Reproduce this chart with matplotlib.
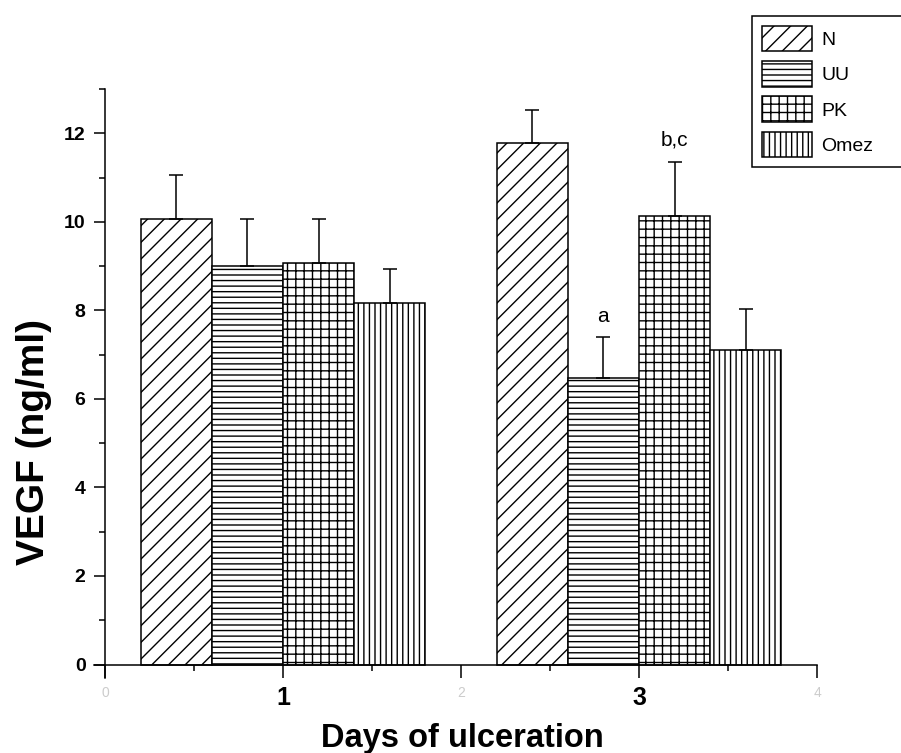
import numpy as np
import matplotlib.pyplot as plt
from matplotlib.ticker import MultipleLocator

plt.rcParams['font.family'] = ['Liberation Sans', 'DejaVu Sans']
plt.rcParams['hatch.linewidth'] = 1.0

days = [1, 3]
groups = ['N', 'UU', 'PK', 'Omez']
n_mean = [10.06, 11.78]
n_err = [0.99, 0.75]
uu_mean = [9.01, 6.48]
uu_err = [1.05, 0.92]
pk_mean = [9.06, 10.12]
pk_err = [1.00, 1.23]
omez_mean = [8.17, 7.10]
omez_err = [0.77, 0.94]
means = [n_mean, uu_mean, pk_mean, omez_mean]
errs = [n_err, uu_err, pk_err, omez_err]
hatches = ['//', '---', '++', '|||']
xtick_labels = ['0', '1', '2', '3', '4']

width = 0.4
offsets = [-1.5, -0.5, 0.5, 1.5]

fig = plt.figure(figsize=(9.01, 7.53), dpi=100)
ax = fig.add_axes([94 / 901, 1 - 677.8 / 753, 723 / 901, (677.8 - 89) / 753])

for i in range(len(groups)):
    x = np.array(days) + offsets[i] * width
    ax.bar(x, means[i], width, color='white', edgecolor='black', hatch=hatches[i],
           linewidth=1.1, label=groups[i],
           yerr=[np.zeros(len(days)), errs[i]],
           error_kw=dict(ecolor='black', elinewidth=1.1, capsize=5, capthick=1.1))

# significance letters
ax.text(days[1] + offsets[1] * width, 7.87, 'a', ha='center', va='center', fontsize=15)
ax.text(days[1] + offsets[2] * width, 11.85, 'b,c', ha='center', va='center', fontsize=15)

ax.set_xlim(-0.062, 4.0)
ax.set_ylim(-0.3, 13)
ax.spines['left'].set_position(('data', 0))
ax.spines['bottom'].set_position(('data', 0))
ax.spines['top'].set_visible(False)
ax.spines['right'].set_visible(False)
ax.spines['left'].set_linewidth(1.1)
ax.spines['bottom'].set_linewidth(1.1)

ax.set_xticks(range(5), xtick_labels)
ax.xaxis.set_minor_locator(MultipleLocator(0.5))
ax.set_yticks(range(0, 13, 2))
ax.yaxis.set_minor_locator(MultipleLocator(1))
ax.tick_params(axis='x', which='major', length=9.5, width=1.1, pad=6, labelsize=18)
ax.tick_params(axis='y', which='major', length=8, width=1.1, pad=6, labelsize=14)
ax.tick_params(which='minor', length=4.5, width=1.1)
for lab in ax.get_xticklabels() + ax.get_yticklabels():
    lab.set_fontweight('bold')
for k, lab in enumerate(ax.get_xticklabels()):
    if k % 2 == 0:
        lab.set_color('#cccccc')
        lab.set_fontsize(10)
        lab.set_fontweight('normal')

ax.set_ylabel('VEGF (ng/ml)', fontsize=28, fontweight='bold')
ax.yaxis.set_label_coords(-0.058, 0.40)
ax.set_xlabel('Days of ulceration', fontsize=23.5, fontweight='bold')
ax.xaxis.set_label_coords(0.51, -0.076)

leg = fig.legend(loc='upper left', bbox_to_anchor=(752 / 901, 0, 160 / 901, 1 - 16 / 753),
                 mode='expand', borderaxespad=0, fontsize=14, handlelength=2.6,
                 handleheight=1.65, labelspacing=0.5, handletextpad=0.45,
                 borderpad=0.5, fancybox=False, edgecolor='black', framealpha=1)
leg.get_frame().set_linewidth(1.1)

fig.savefig('out.png', dpi=100)
